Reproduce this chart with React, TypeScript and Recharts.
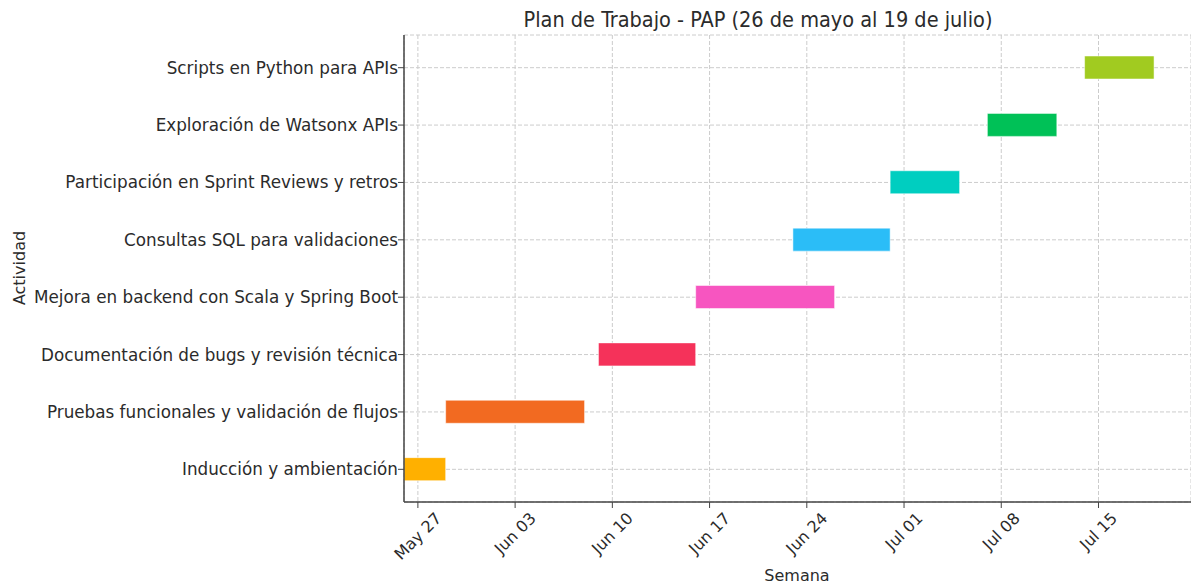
import React from "react";
import { BarChart, Bar, XAxis, YAxis, CartesianGrid, Cell, Label } from "recharts";

// activities in chronological order (bottom row first)
const ACTIVITIES = [
  "Inducción y ambientación",
  "Pruebas funcionales y validación de flujos",
  "Documentación de bugs y revisión técnica",
  "Mejora en backend con Scala y Spring Boot",
  "Consultas SQL para validaciones",
  "Participación en Sprint Reviews y retros",
  "Exploración de Watsonx APIs",
  "Scripts en Python para APIs",
];

// days counted from May 26
const START_DAY = [0, 3, 14, 21, 28, 35, 42, 49];
const DURATION = [3, 10, 7, 10, 7, 5, 5, 5];

const COLORS = [
  "#ffb000",
  "#f26a21",
  "#f5325a",
  "#f755c0",
  "#2bbdf7",
  "#00cec0",
  "#00c157",
  "#a1cb20",
];

const TICK_DAYS = [1, 8, 15, 22, 29, 36, 43, 50];
const TICK_LABELS = ["May 27", "Jun 03", "Jun 10", "Jun 17", "Jun 24", "Jul 01", "Jul 08", "Jul 15"];

const FONT = "'DejaVu Sans', sans-serif";
const TEXT = "#2b2b2b";
const AXIS = "#444444";

let ctx: CanvasRenderingContext2D | null = null;
function textWidth(s: string, size: number) {
  if (!ctx) ctx = document.createElement("canvas").getContext("2d");
  if (!ctx) return s.length * size * 0.55;
  ctx.font = `${size}px 'DejaVu Sans'`;
  return ctx.measureText(s).width;
}

function DateTick(props: any) {
  const { x, payload } = props;
  const i = TICK_DAYS.indexOf(payload.value);
  const label = i >= 0 ? TICK_LABELS[i] : "";
  const w = textWidth(label, 16);
  const cy = 509 + (w + 18) / 2.828;
  return (
    <text
      x={x}
      y={cy}
      transform={`rotate(-45, ${x}, ${cy})`}
      textAnchor="middle"
      dominantBaseline="central"
      fontFamily={FONT}
      fontSize={16}
      fill={TEXT}
    >
      {label}
    </text>
  );
}

export default function App() {
  const data = ACTIVITIES.map((a, i) => ({
    activity: a,
    start: START_DAY[i],
    dur: DURATION[i],
  }));

  return (
    <div style={{ width: 1191, height: 585, background: "#fff" }}>
      <style>{`body{margin:0}`}</style>
      <BarChart
        width={1191}
        height={585}
        data={data}
        layout="vertical"
        margin={{ top: 35, right: 0, bottom: 0, left: 0 }}
      >
        <CartesianGrid stroke="#cccccc" strokeDasharray="4 2" />
        <XAxis
          type="number"
          domain={[0, 56.66]}
          ticks={TICK_DAYS}
          interval={0}
          height={83}
          allowDataOverflow
          tick={<DateTick />}
          tickSize={6}
          tickLine={{ stroke: AXIS }}
          axisLine={{ stroke: AXIS, strokeWidth: 1.5 }}
        >
          <Label
            content={() => (
              <text x={797} y={575} textAnchor="middle" dominantBaseline="central" fontFamily={FONT} fontSize={16} fill={TEXT}>
                Semana
              </text>
            )}
          />
        </XAxis>
        <YAxis
          type="category"
          dataKey="activity"
          reversed
          width={404}
          padding={{ top: 4, bottom: 4 }}
          interval={0}
          tickSize={6}
          tickMargin={0}
          tick={{ fontFamily: FONT, fontSize: 16.8, fill: TEXT }}
          tickLine={{ stroke: AXIS }}
          axisLine={{ stroke: AXIS, strokeWidth: 1.5 }}
        >
          <Label
            content={() => (
              <g>
                <text
                  x={19}
                  y={268}
                  transform="rotate(-90, 19, 268)"
                  textAnchor="middle"
                  dominantBaseline="central"
                  fontFamily={FONT}
                  fontSize={16}
                  fill={TEXT}
                >
                  Actividad
                </text>
                <text
                  x={758}
                  y={19}
                  textAnchor="middle"
                  dominantBaseline="central"
                  fontFamily="'DejaVu Sans Condensed', 'DejaVu Sans', sans-serif"
                  fontStretch="condensed"
                  fontSize={21.5}
                  fill={TEXT}
                >
                  Plan de Trabajo - PAP (26 de mayo al 19 de julio)
                </text>
              </g>
            )}
          />
        </YAxis>
        <Bar dataKey="start" stackId="g" fill="transparent" barSize={23} isAnimationActive={false} />
        <Bar dataKey="dur" stackId="g" barSize={23} isAnimationActive={false} stroke="rgba(255,255,255,0.5)" strokeWidth={1}>
          {data.map((_, i) => (
            <Cell key={i} fill={COLORS[i]} />
          ))}
        </Bar>
      </BarChart>
    </div>
  );
}
